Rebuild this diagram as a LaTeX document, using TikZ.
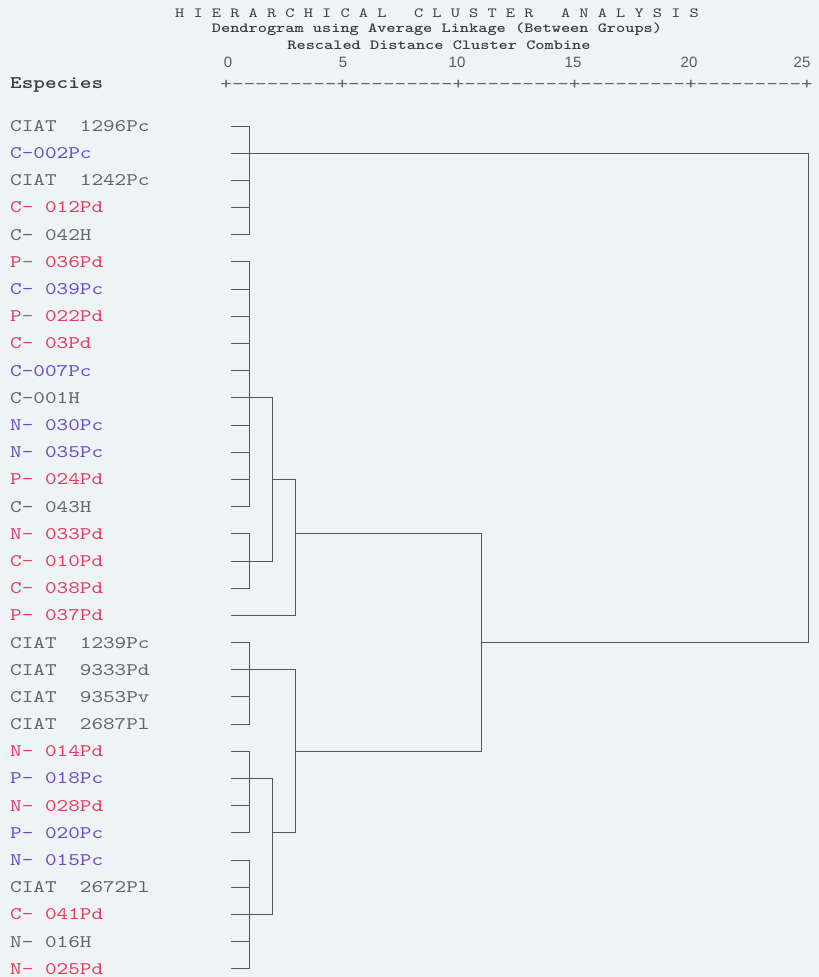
\documentclass[tikz,border=0pt]{standalone}
\usepackage{fontspec}
\newfontfamily\cour[FakeStretch=1.25, Ligatures=TeXOff]{lmmono10-regular.otf}
\newfontfamily\courb[FakeStretch=1.25, Ligatures=TeXOff]{lmmonolt10-bold.otf}
\newfontfamily\sans{Liberation Sans}
\definecolor{paper}{HTML}{EEF3F6}
\definecolor{gtxt}{HTML}{646464}
\definecolor{ptxt}{HTML}{6A4CC0}
\definecolor{rtxt}{HTML}{E23C5E}
\definecolor{ttxt}{HTML}{3C3C3C}
\definecolor{lin}{HTML}{575757}
\tikzset{
  lab/.style={anchor=base west, inner sep=0pt, font=\cour\fontsize{17.7}{19}\selectfont},
  g/.style={lab, text=gtxt},
  p/.style={lab, text=ptxt},
  r/.style={lab, text=rtxt},
  ttl/.style={inner sep=0pt, text=ttxt, font=\courb\fontsize{14}{16}\selectfont},
  num/.style={inner sep=0pt, text=gtxt!90!black, font=\sans\fontsize{15}{16}\selectfont},
  tree/.style={draw=lin, line width=1pt}
}
\begin{document}
\begin{tikzpicture}[x=1pt,y=-1pt]
\fill[paper] (0,0) rectangle (819,977);
\useasboundingbox (0,0) rectangle (819,977);
% titles
\node[ttl, font=\cour\fontsize{14}{16}\selectfont] (t1) at (437,13) {H I E R A R C H I C A L\ \ \ C L U S T E R\ \ \ A N A L Y S I S};
\node[ttl] (t2) at (437,29) {Dendrogram using Average Linkage (Between Groups)};
\node[ttl] (t3) at (439,45) {Rescaled Distance Cluster Combine};
% axis numbers
\node[num] (n0) at (228,62) {0};
\node[num] (n5) at (343,62) {5};
\node[num] (n10) at (457,62) {10};
\node[num] (n15) at (573,62) {15};
\node[num] (n20) at (689,62) {20};
\node[num] (n25) at (802,62) {25};
\node[lab, text=ttxt, font=\courb\fontsize{17.7}{19}\selectfont] (esp) at (10,88.5) {Especies};
\node[lab, text=gtxt] (axis) at (220.2,89) {+---------+---------+---------+---------+---------+};
% row coordinates
\foreach \i in {1,...,32}{
  \coordinate (r\i) at (231,{126+(\i-1)*27.19});
}
\coordinate (x1) at (249,0);
\coordinate (x2) at (272,0);
\coordinate (x3) at (295,0);
\coordinate (x11) at (481,0);
\coordinate (x25) at (808,0);
% labels
\foreach \i/\s/\t in {
 1/g/{CIAT~~1296Pc}, 2/p/{C-002Pc}, 3/g/{CIAT~~1242Pc}, 4/r/{C-~012Pd},
 5/g/{C-~042H}, 6/r/{P-~036Pd}, 7/p/{C-~039Pc}, 8/r/{P-~022Pd},
 9/r/{C-~03Pd}, 10/p/{C-007Pc}, 11/g/{C-001H}, 12/p/{N-~030Pc},
 13/p/{N-~035Pc}, 14/r/{P-~024Pd}, 15/g/{C-~043H}, 16/r/{N-~033Pd},
 17/r/{C-~010Pd}, 18/r/{C-~038Pd}, 19/r/{P-~037Pd}, 20/g/{CIAT~~1239Pc},
 21/g/{CIAT~~9333Pd}, 22/g/{CIAT~~9353Pv}, 23/g/{CIAT~~2687Pl}, 24/r/{N-~014Pd},
 25/p/{P-~018Pc}, 26/r/{N-~028Pd}, 27/p/{P-~020Pc}, 28/p/{N-~015Pc},
 29/g/{CIAT~~2672Pl}, 30/r/{C-~041Pd}, 31/g/{N-~016H}, 32/r/{N-~025Pd}}{
  \node[\s] (lab\i) at (10,{126+(\i-1)*27.19+5.4}) {\t};
}
% cluster A (rows 1-5)
\draw[tree] (r1) -- (r1-|x1) -- (r5-|x1) -- (r5);
\foreach \i in {3,4}{\draw[tree] (r\i) -- (r\i-|x1);}
\draw[tree] (r2) -- (r2-|x25) -- (r20-|x25) -- (r20-|x11);
% cluster B (rows 6-15)
\draw[tree] (r6) -- (r6-|x1) -- (r15-|x1) -- (r15);
\foreach \i in {7,8,9,10,12,13,14}{\draw[tree] (r\i) -- (r\i-|x1);}
\draw[tree] (r11) -- (r11-|x2) -- (r17-|x2) -- (r17);
% cluster C (rows 16-18)
\draw[tree] (r16) -- (r16-|x1) -- (r18-|x1) -- (r18);
\draw[tree] (r14-|x2) -- (r14-|x3);
\draw[tree] (r19) -- (r19-|x3) -- (r14-|x3);
\draw[tree] (r16-|x3) -- (r16-|x11) -- (r24-|x11) -- (r24-|x3);
% cluster D (rows 20-23)
\draw[tree] (r20) -- (r20-|x1) -- (r23-|x1) -- (r23);
\draw[tree] (r22) -- (r22-|x1);
\draw[tree] (r21) -- (r21-|x3) -- (r27-|x3) -- (r27-|x2);
% cluster E (rows 24-27)
\draw[tree] (r24) -- (r24-|x1) -- (r27-|x1) -- (r27);
\draw[tree] (r26) -- (r26-|x1);
\draw[tree] (r25) -- (r25-|x2) -- (r30-|x2) -- (r30);
% cluster F (rows 28-32)
\draw[tree] (r28) -- (r28-|x1) -- (r32-|x1) -- (r32);
\foreach \i in {29,31}{\draw[tree] (r\i) -- (r\i-|x1);}
\end{tikzpicture}
\end{document}
